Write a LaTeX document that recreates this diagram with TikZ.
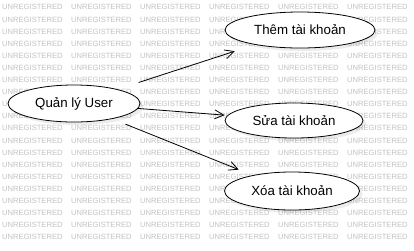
\documentclass[tikz,border=0pt]{standalone}
\usepackage{fontspec}
\setmainfont{Liberation Sans}
\usetikzlibrary{shapes.geometric,shadows,arrows.meta}
\begin{document}
\begin{tikzpicture}[x=1pt, y=-1pt,
  wmtext/.style={anchor=west, inner sep=0pt, text=gray!48, font=\fontsize{7.6}{9}\selectfont},
  usecase/.style={ellipse, draw, line width=0.8pt, fill=white, inner sep=0pt,
    font=\fontsize{13.3}{16}\selectfont,
    drop shadow={shadow xshift=3pt, shadow yshift=-3pt, opacity=0.15}},
  link/.style={line width=0.8pt, -{Straight Barb[length=9pt, width=9pt]}}]
  \useasboundingbox (0,0) rectangle (414,250);
  \fill[white] (0,0) rectangle (414,250);
  % background stamp
  \foreach \r in {0,...,19}
    \foreach \c in {0,...,5}
      \node[wmtext] (w\r-\c) at (2+69*\c, 7.3+12.1*\r) {UNREGISTERED};
  \node[usecase, minimum width=132pt, minimum height=37pt] (quanly) at (74,103.5) {Quản lý User};
  \node[usecase, minimum width=150pt, minimum height=36pt] (them) at (300,30) {Thêm tài khoản};
  \node[usecase, minimum width=138pt, minimum height=35pt] (sua) at (294,120.5) {Sửa tài khoản};
  \node[usecase, minimum width=135pt, minimum height=38pt] (xoa) at (292,191) {Xóa tài khoản};
  \draw[link, shorten <=22pt, shorten >=21pt] (quanly) -- (them);
  \draw[link, shorten >=3pt] (quanly) -- (sua);
  \draw[link, shorten <=14pt, shorten >=15pt] (quanly) -- (xoa);
\end{tikzpicture}
\end{document}
